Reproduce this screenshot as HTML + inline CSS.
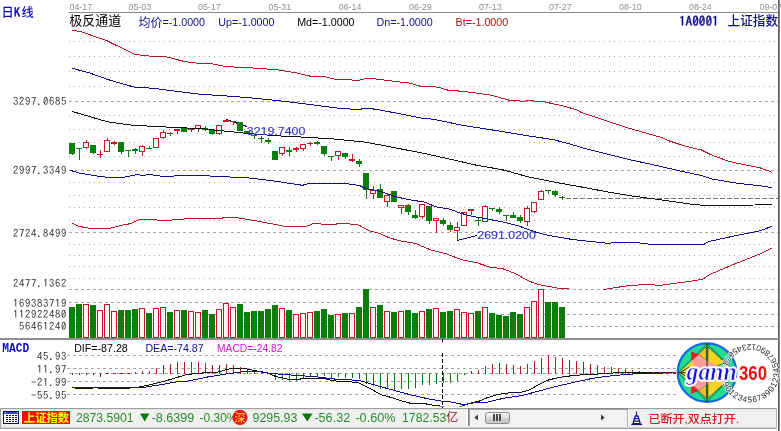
<!DOCTYPE html>
<html lang="zh-CN">
<head>
<meta charset="utf-8">
<title>上证指数 日K线 极反通道</title>
<style>
html,body{margin:0;padding:0;background:#fff;}
body{width:781px;height:431px;overflow:hidden;position:relative;font-family:'Liberation Sans','Noto Sans CJK SC',sans-serif;}
svg text{white-space:pre;}
</style>
</head>
<body>
<svg width="781" height="431" viewBox="0 0 781 431" style="position:absolute;left:0;top:0">
<g shape-rendering="crispEdges">
<rect x="69" y="12" width="710" height="1" fill="#8c8c8c"/>
<rect x="778" y="0" width="1" height="431" fill="#5a5a64"/>
<rect x="779" y="0" width="1" height="431" fill="#8a8a94"/>
<line x1="69" y1="41.5" x2="778" y2="41.5" stroke="#acacac" stroke-width="1" stroke-dasharray="1 4" stroke-dashoffset="0"/>
<line x1="69" y1="56.5" x2="778" y2="56.5" stroke="#acacac" stroke-width="1" stroke-dasharray="1 4" stroke-dashoffset="0"/>
<line x1="69" y1="71.5" x2="778" y2="71.5" stroke="#acacac" stroke-width="1" stroke-dasharray="1 4" stroke-dashoffset="0"/>
<line x1="69" y1="86.5" x2="778" y2="86.5" stroke="#acacac" stroke-width="1" stroke-dasharray="1 4" stroke-dashoffset="0"/>
<line x1="69" y1="115.5" x2="778" y2="115.5" stroke="#acacac" stroke-width="1" stroke-dasharray="1 4" stroke-dashoffset="0"/>
<line x1="69" y1="129.5" x2="778" y2="129.5" stroke="#acacac" stroke-width="1" stroke-dasharray="1 4" stroke-dashoffset="0"/>
<line x1="69" y1="142.5" x2="778" y2="142.5" stroke="#acacac" stroke-width="1" stroke-dasharray="1 4" stroke-dashoffset="0"/>
<line x1="69" y1="156.5" x2="778" y2="156.5" stroke="#acacac" stroke-width="1" stroke-dasharray="1 4" stroke-dashoffset="0"/>
<line x1="69" y1="182.5" x2="778" y2="182.5" stroke="#acacac" stroke-width="1" stroke-dasharray="1 4" stroke-dashoffset="0"/>
<line x1="69" y1="195.5" x2="778" y2="195.5" stroke="#acacac" stroke-width="1" stroke-dasharray="1 4" stroke-dashoffset="0"/>
<line x1="69" y1="207.5" x2="778" y2="207.5" stroke="#acacac" stroke-width="1" stroke-dasharray="1 4" stroke-dashoffset="0"/>
<line x1="69" y1="220.5" x2="778" y2="220.5" stroke="#acacac" stroke-width="1" stroke-dasharray="1 4" stroke-dashoffset="0"/>
<line x1="69" y1="244.5" x2="778" y2="244.5" stroke="#acacac" stroke-width="1" stroke-dasharray="1 4" stroke-dashoffset="0"/>
<line x1="69" y1="255.5" x2="778" y2="255.5" stroke="#acacac" stroke-width="1" stroke-dasharray="1 4" stroke-dashoffset="0"/>
<line x1="69" y1="266.5" x2="778" y2="266.5" stroke="#acacac" stroke-width="1" stroke-dasharray="1 4" stroke-dashoffset="0"/>
<line x1="69" y1="278.5" x2="778" y2="278.5" stroke="#acacac" stroke-width="1" stroke-dasharray="1 4" stroke-dashoffset="0"/>
<line x1="69" y1="101.5" x2="778" y2="101.5" stroke="#a4a4a4" stroke-width="1" stroke-dasharray="3 3" stroke-dashoffset="0"/>
<line x1="69" y1="170.5" x2="778" y2="170.5" stroke="#a4a4a4" stroke-width="1" stroke-dasharray="3 3" stroke-dashoffset="0"/>
<line x1="69" y1="232.5" x2="778" y2="232.5" stroke="#a4a4a4" stroke-width="1" stroke-dasharray="3 3" stroke-dashoffset="0"/>
<line x1="69" y1="289.5" x2="778" y2="289.5" stroke="#a4a4a4" stroke-width="1" stroke-dasharray="3 3" stroke-dashoffset="0"/>
<line x1="69" y1="302.5" x2="778" y2="302.5" stroke="#a4a4a4" stroke-width="1" stroke-dasharray="3 3" stroke-dashoffset="0"/>
<line x1="69" y1="314.5" x2="778" y2="314.5" stroke="#a4a4a4" stroke-width="1" stroke-dasharray="3 3" stroke-dashoffset="0"/>
<line x1="69" y1="326.5" x2="778" y2="326.5" stroke="#a4a4a4" stroke-width="1" stroke-dasharray="3 3" stroke-dashoffset="0"/>
<line x1="67" y1="355.5" x2="676" y2="355.5" stroke="#a4a4a4" stroke-width="1" stroke-dasharray="3 3" stroke-dashoffset="0"/>
<line x1="67" y1="368.5" x2="676" y2="368.5" stroke="#a4a4a4" stroke-width="1" stroke-dasharray="3 3" stroke-dashoffset="0"/>
<line x1="67" y1="381.5" x2="676" y2="381.5" stroke="#a4a4a4" stroke-width="1" stroke-dasharray="3 3" stroke-dashoffset="0"/>
<line x1="67" y1="394.5" x2="676" y2="394.5" stroke="#a4a4a4" stroke-width="1" stroke-dasharray="3 3" stroke-dashoffset="0"/>
<rect x="0" y="338" width="779" height="2" fill="#8e8e8e"/>
</g>
<g shape-rendering="crispEdges">
<line x1="566" y1="198.5" x2="778" y2="198.5" stroke="#767676" stroke-width="1" stroke-dasharray="5 2" stroke-dashoffset="0"/>
</g>
<g shape-rendering="crispEdges" stroke="#10108e" stroke-width="1">
<line x1="226" y1="119.5" x2="247" y2="126.5"/>
<line x1="457.5" y1="240.5" x2="477" y2="235.5"/>
</g>
<g shape-rendering="crispEdges">
<rect x="72" y="143" width="1" height="12" fill="#0a7d0a"/>
<rect x="69" y="143" width="6" height="11" fill="#0a7d0a"/>
<rect x="79" y="148" width="1" height="12" fill="#0a7d0a"/>
<rect x="76" y="148" width="6" height="1" fill="#0a7d0a"/>
<rect x="86" y="140" width="1" height="9" fill="#d01226"/>
<rect x="83.5" y="142.5" width="5" height="5" fill="#fff" stroke="#d01226" stroke-width="1"/>
<rect x="93" y="145" width="1" height="9" fill="#0a7d0a"/>
<rect x="90" y="145" width="6" height="8" fill="#0a7d0a"/>
<rect x="100" y="150" width="1" height="8" fill="#d01226"/>
<rect x="97" y="154" width="6" height="1" fill="#d01226"/>
<rect x="107" y="138" width="1" height="14" fill="#d01226"/>
<rect x="104.5" y="140.5" width="5" height="11" fill="#fff" stroke="#d01226" stroke-width="1"/>
<rect x="114" y="141" width="1" height="4" fill="#d01226"/>
<rect x="111" y="142" width="6" height="2" fill="#d01226"/>
<rect x="121" y="142" width="1" height="12" fill="#0a7d0a"/>
<rect x="118" y="142" width="6" height="10" fill="#0a7d0a"/>
<rect x="128" y="150" width="1" height="7" fill="#0a7d0a"/>
<rect x="125" y="150" width="6" height="1" fill="#0a7d0a"/>
<rect x="135" y="148" width="1" height="6" fill="#0a7d0a"/>
<rect x="132" y="149" width="6" height="2" fill="#0a7d0a"/>
<rect x="142" y="145" width="1" height="11" fill="#d01226"/>
<rect x="139.5" y="146.5" width="5" height="5" fill="#fff" stroke="#d01226" stroke-width="1"/>
<rect x="149" y="146" width="1" height="2" fill="#0a7d0a"/>
<rect x="146" y="148" width="6" height="1" fill="#0a7d0a"/>
<rect x="156" y="138" width="1" height="10" fill="#d01226"/>
<rect x="153.5" y="138.5" width="5" height="9" fill="#fff" stroke="#d01226" stroke-width="1"/>
<rect x="163" y="130" width="1" height="9" fill="#d01226"/>
<rect x="160.5" y="132.5" width="5" height="5" fill="#fff" stroke="#d01226" stroke-width="1"/>
<rect x="170" y="132" width="1" height="4" fill="#0a7d0a"/>
<rect x="167" y="133" width="6" height="1" fill="#0a7d0a"/>
<rect x="177" y="129" width="1" height="5" fill="#d01226"/>
<rect x="174" y="129" width="6" height="2" fill="#d01226"/>
<rect x="184" y="128" width="1" height="4" fill="#0a7d0a"/>
<rect x="181" y="128" width="6" height="4" fill="#0a7d0a"/>
<rect x="191" y="128" width="1" height="4" fill="#d01226"/>
<rect x="188" y="128" width="6" height="2" fill="#d01226"/>
<rect x="198" y="125" width="1" height="7" fill="#d01226"/>
<rect x="195.5" y="125.5" width="5" height="3" fill="#fff" stroke="#d01226" stroke-width="1"/>
<rect x="205" y="126" width="1" height="5" fill="#0a7d0a"/>
<rect x="202" y="128" width="6" height="2" fill="#0a7d0a"/>
<rect x="212" y="130" width="1" height="5" fill="#0a7d0a"/>
<rect x="209" y="130" width="6" height="4" fill="#0a7d0a"/>
<rect x="219" y="125" width="1" height="10" fill="#d01226"/>
<rect x="216.5" y="125.5" width="5" height="8" fill="#fff" stroke="#d01226" stroke-width="1"/>
<rect x="226" y="120" width="1" height="2" fill="#d01226"/>
<rect x="223" y="120" width="6" height="2" fill="#d01226"/>
<rect x="233" y="121" width="1" height="4" fill="#d01226"/>
<rect x="230" y="121" width="6" height="1" fill="#d01226"/>
<rect x="240" y="122" width="1" height="9" fill="#0a7d0a"/>
<rect x="237" y="122" width="6" height="9" fill="#0a7d0a"/>
<rect x="247" y="131" width="1" height="3" fill="#0a7d0a"/>
<rect x="244" y="131" width="6" height="3" fill="#0a7d0a"/>
<rect x="254" y="134" width="1" height="5" fill="#0a7d0a"/>
<rect x="251" y="135" width="6" height="1" fill="#0a7d0a"/>
<rect x="261" y="136" width="1" height="7" fill="#0a7d0a"/>
<rect x="258" y="138" width="6" height="1" fill="#0a7d0a"/>
<rect x="268" y="138" width="1" height="6" fill="#0a7d0a"/>
<rect x="265" y="140" width="6" height="2" fill="#0a7d0a"/>
<rect x="275" y="151" width="1" height="9" fill="#0a7d0a"/>
<rect x="272" y="151" width="6" height="9" fill="#0a7d0a"/>
<rect x="282" y="147" width="1" height="9" fill="#d01226"/>
<rect x="279.5" y="147.5" width="5" height="6" fill="#fff" stroke="#d01226" stroke-width="1"/>
<rect x="289" y="147" width="1" height="9" fill="#0a7d0a"/>
<rect x="286" y="150" width="6" height="2" fill="#0a7d0a"/>
<rect x="296" y="147" width="1" height="5" fill="#d01226"/>
<rect x="293" y="148" width="6" height="2" fill="#d01226"/>
<rect x="303" y="144" width="1" height="7" fill="#d01226"/>
<rect x="300.5" y="144.5" width="5" height="4" fill="#fff" stroke="#d01226" stroke-width="1"/>
<rect x="310" y="142" width="1" height="4" fill="#d01226"/>
<rect x="307" y="143" width="6" height="1" fill="#d01226"/>
<rect x="317" y="141" width="1" height="4" fill="#0a7d0a"/>
<rect x="314" y="142" width="6" height="2" fill="#0a7d0a"/>
<rect x="324" y="146" width="1" height="10" fill="#0a7d0a"/>
<rect x="321" y="146" width="6" height="8" fill="#0a7d0a"/>
<rect x="331" y="156" width="1" height="5" fill="#0a7d0a"/>
<rect x="328" y="156" width="6" height="1" fill="#0a7d0a"/>
<rect x="338" y="151" width="1" height="9" fill="#d01226"/>
<rect x="335.5" y="151.5" width="5" height="4" fill="#fff" stroke="#d01226" stroke-width="1"/>
<rect x="345" y="153" width="1" height="6" fill="#0a7d0a"/>
<rect x="342" y="153" width="6" height="4" fill="#0a7d0a"/>
<rect x="352" y="154" width="1" height="8" fill="#d01226"/>
<rect x="349" y="159" width="6" height="2" fill="#d01226"/>
<rect x="359" y="159" width="1" height="8" fill="#0a7d0a"/>
<rect x="356" y="161" width="6" height="3" fill="#0a7d0a"/>
<rect x="366" y="173" width="1" height="26" fill="#0a7d0a"/>
<rect x="363" y="173" width="6" height="17" fill="#0a7d0a"/>
<rect x="373" y="186" width="1" height="13" fill="#d01226"/>
<rect x="370.5" y="190.5" width="5" height="3" fill="#fff" stroke="#d01226" stroke-width="1"/>
<rect x="380" y="184" width="1" height="14" fill="#0a7d0a"/>
<rect x="377" y="189" width="6" height="9" fill="#0a7d0a"/>
<rect x="387" y="194" width="1" height="13" fill="#d01226"/>
<rect x="384.5" y="195.5" width="5" height="6" fill="#fff" stroke="#d01226" stroke-width="1"/>
<rect x="394" y="191" width="1" height="11" fill="#0a7d0a"/>
<rect x="391" y="191" width="6" height="11" fill="#0a7d0a"/>
<rect x="401" y="205" width="1" height="9" fill="#d01226"/>
<rect x="398.5" y="205.5" width="5" height="2" fill="#fff" stroke="#d01226" stroke-width="1"/>
<rect x="408" y="204" width="1" height="11" fill="#0a7d0a"/>
<rect x="405" y="205" width="6" height="7" fill="#0a7d0a"/>
<rect x="415" y="210" width="1" height="9" fill="#0a7d0a"/>
<rect x="412" y="215" width="6" height="3" fill="#0a7d0a"/>
<rect x="422" y="204" width="1" height="15" fill="#d01226"/>
<rect x="419.5" y="204.5" width="5" height="12" fill="#fff" stroke="#d01226" stroke-width="1"/>
<rect x="429" y="206" width="1" height="18" fill="#0a7d0a"/>
<rect x="426" y="206" width="6" height="15" fill="#0a7d0a"/>
<rect x="436" y="218" width="1" height="15" fill="#d01226"/>
<rect x="433.5" y="218.5" width="5" height="2" fill="#fff" stroke="#d01226" stroke-width="1"/>
<rect x="443" y="218" width="1" height="8" fill="#0a7d0a"/>
<rect x="440" y="220" width="6" height="4" fill="#0a7d0a"/>
<rect x="450" y="222" width="1" height="10" fill="#0a7d0a"/>
<rect x="447" y="225" width="6" height="5" fill="#0a7d0a"/>
<rect x="457" y="222" width="1" height="18" fill="#d01226"/>
<rect x="454.5" y="227.5" width="5" height="3" fill="#fff" stroke="#d01226" stroke-width="1"/>
<rect x="464" y="212" width="1" height="14" fill="#d01226"/>
<rect x="461.5" y="212.5" width="5" height="13" fill="#fff" stroke="#d01226" stroke-width="1"/>
<rect x="471" y="209" width="1" height="6" fill="#d01226"/>
<rect x="468" y="209" width="6" height="2" fill="#d01226"/>
<rect x="478" y="217" width="1" height="9" fill="#0a7d0a"/>
<rect x="475" y="220" width="6" height="1" fill="#0a7d0a"/>
<rect x="485" y="205" width="1" height="17" fill="#d01226"/>
<rect x="482.5" y="206.5" width="5" height="15" fill="#fff" stroke="#d01226" stroke-width="1"/>
<rect x="492" y="208" width="1" height="3" fill="#0a7d0a"/>
<rect x="489" y="208" width="6" height="1" fill="#0a7d0a"/>
<rect x="499" y="207" width="1" height="7" fill="#0a7d0a"/>
<rect x="496" y="209" width="6" height="3" fill="#0a7d0a"/>
<rect x="506" y="215" width="1" height="6" fill="#0a7d0a"/>
<rect x="503" y="215" width="6" height="1" fill="#0a7d0a"/>
<rect x="513" y="212" width="1" height="6" fill="#0a7d0a"/>
<rect x="510" y="215" width="6" height="3" fill="#0a7d0a"/>
<rect x="520" y="215" width="1" height="8" fill="#0a7d0a"/>
<rect x="517" y="217" width="6" height="4" fill="#0a7d0a"/>
<rect x="527" y="206" width="1" height="20" fill="#d01226"/>
<rect x="524.5" y="208.5" width="5" height="13" fill="#fff" stroke="#d01226" stroke-width="1"/>
<rect x="534" y="202" width="1" height="11" fill="#d01226"/>
<rect x="531.5" y="202.5" width="5" height="9" fill="#fff" stroke="#d01226" stroke-width="1"/>
<rect x="541" y="190" width="1" height="10" fill="#d01226"/>
<rect x="538.5" y="191.5" width="5" height="8" fill="#fff" stroke="#d01226" stroke-width="1"/>
<rect x="548" y="190" width="1" height="4" fill="#0a7d0a"/>
<rect x="545" y="190" width="6" height="1" fill="#0a7d0a"/>
<rect x="555" y="190" width="1" height="7" fill="#0a7d0a"/>
<rect x="552" y="191" width="6" height="4" fill="#0a7d0a"/>
<rect x="562" y="196" width="1" height="4" fill="#0a7d0a"/>
<rect x="559" y="197" width="6" height="1" fill="#0a7d0a"/>
</g>
<g shape-rendering="crispEdges" stroke-linejoin="round">
<polyline points="72.5,30.2 82.0,32.0 107.5,41.0 134.4,54.3 151.0,56.3 166.4,56.9 184.4,61.5 200.0,63.5 212.8,64.0 225.6,66.6 251.2,67.9 276.8,69.7 297.3,73.0 312.7,76.8 322.9,76.3 335.7,79.4 348.5,79.9 358.8,80.2 367.7,78.1 379.3,79.4 400.0,82.0 410.2,83.2 420.5,86.3 438.4,87.1 448.7,90.4 461.5,91.2 489.6,94.8 510.0,100.4 523.0,101.2 528.0,100.6 543.4,101.7 558.8,105.0 576.7,109.6 581.0,112.3 606.6,121.0 627.0,127.7 663.0,137.9 668.0,140.5 683.4,145.6 701.4,150.0 711.6,155.0 727.0,160.7 737.2,163.3 760.3,167.9 771.8,172.2" fill="none" stroke="#b21a30" stroke-width="1" />
<polyline points="72.3,223.2 78.5,226.2 85.0,227.5 90.0,228.3 100.0,228.7 107.5,228.9 120.4,225.6 130.6,223.6 138.3,220.0 151.0,219.2 163.9,221.0 179.3,219.2 200.0,218.4 220.5,218.4 225.6,217.4 235.8,217.4 251.2,220.0 271.7,223.8 287.0,226.9 305.0,226.9 312.7,223.8 320.3,223.8 325.5,224.8 333.1,224.8 338.3,223.6 348.5,223.8 358.8,225.1 369.0,230.7 379.2,233.3 389.5,237.9 400.0,240.8 415.4,243.5 430.7,249.9 446.1,253.8 461.5,259.7 476.8,262.7 489.6,267.1 502.4,268.6 515.2,273.5 528.0,280.7 538.3,284.5 558.8,288.3 569.0,288.9" fill="none" stroke="#b21a30" stroke-width="1" />
<polyline points="603.5,289.6 627.0,285.8 645.0,284.5 660.4,285.3 683.4,282.2 690.0,281.4 702.5,279.3 709.0,274.8 734.6,264.0 760.3,253.8 771.8,248.1" fill="none" stroke="#b21a30" stroke-width="1" />
<polyline points="72.5,68.4 89.6,73.0 107.5,79.4 120.4,83.2 134.4,87.1 153.6,88.3 179.3,91.7 200.0,94.2 225.6,95.9 251.2,97.9 276.8,100.5 302.4,103.5 328.0,106.9 343.4,108.7 358.8,109.4 367.7,108.1 379.3,109.9 400.0,113.8 420.5,118.0 433.3,119.2 464.0,125.6 484.5,128.7 528.0,135.8 553.6,139.7 579.3,146.6 581.0,147.4 606.6,153.8 632.2,160.2 657.8,165.8 683.4,171.7 701.4,175.5 711.6,178.9 737.2,183.2 760.3,185.8 771.8,187.6" fill="none" stroke="#10108e" stroke-width="1" />
<polyline points="70.0,170.5 75.0,171.5 79.0,173.0 84.0,173.8 91.0,175.0 97.4,176.0 104.5,177.0 108.0,177.5 122.0,177.5 125.0,177.0 130.5,176.0 135.0,175.0 137.0,174.5 140.0,175.0 143.0,175.5 146.0,175.0 149.0,174.5 153.0,175.0 157.0,175.6 160.0,176.0 164.0,176.6 172.0,176.5 175.0,175.8 180.0,175.5 200.0,175.5 225.6,176.8 251.2,178.1 276.8,181.4 302.4,185.3 310.0,183.2 328.0,184.0 343.4,183.2 350.0,184.1 359.2,185.4 365.4,188.4 380.7,191.5 396.0,196.9 411.4,200.0 425.3,202.3 436.0,206.9 449.8,209.2 460.8,213.3 471.5,216.1 485.3,218.7 500.7,221.5 517.6,225.6 536.0,232.2 548.3,235.3 570.0,239.1 581.0,240.5 593.8,241.7 609.2,243.5 614.3,242.3 634.8,242.3 650.1,244.3 703.9,244.3 709.0,241.5 734.6,235.9 760.3,230.7 771.8,226.4" fill="none" stroke="#10108e" stroke-width="1" />
<polyline points="72.5,111.5 89.6,116.6 107.5,121.8 128.0,124.8 153.6,126.4 179.3,127.7 200.0,128.5 225.6,131.2 251.2,133.8 276.8,135.8 302.4,137.1 333.2,138.9 366.5,142.3 400.0,148.7 425.6,153.8 451.2,159.4 476.8,165.3 502.4,169.7 528.0,176.8 553.6,182.0 579.3,186.6 606.6,191.7 632.2,196.0 657.8,199.4 678.3,202.4 693.7,204.5 706.5,205.5 755.0,205.0 771.8,204.5" fill="none" stroke="#101010" stroke-width="1" />
</g>
<g shape-rendering="crispEdges">
<rect x="69" y="307" width="6" height="31" fill="#0a7d0a"/>
<rect x="76" y="304" width="6" height="34" fill="#0a7d0a"/>
<rect x="83.5" y="304.5" width="5" height="33" fill="#fff4f4" stroke="#d01226" stroke-width="1"/>
<rect x="90" y="305" width="6" height="33" fill="#0a7d0a"/>
<rect x="97.5" y="310.5" width="5" height="27" fill="#fff4f4" stroke="#d01226" stroke-width="1"/>
<rect x="104.5" y="304.5" width="5" height="33" fill="#fff4f4" stroke="#d01226" stroke-width="1"/>
<rect x="111.5" y="311.5" width="5" height="26" fill="#fff4f4" stroke="#d01226" stroke-width="1"/>
<rect x="118" y="310" width="6" height="28" fill="#0a7d0a"/>
<rect x="125" y="310" width="6" height="28" fill="#0a7d0a"/>
<rect x="132" y="309" width="6" height="29" fill="#0a7d0a"/>
<rect x="139.5" y="308.5" width="5" height="29" fill="#fff4f4" stroke="#d01226" stroke-width="1"/>
<rect x="146" y="313" width="6" height="25" fill="#0a7d0a"/>
<rect x="153.5" y="308.5" width="5" height="29" fill="#fff4f4" stroke="#d01226" stroke-width="1"/>
<rect x="160.5" y="307.5" width="5" height="30" fill="#fff4f4" stroke="#d01226" stroke-width="1"/>
<rect x="167" y="312" width="6" height="26" fill="#0a7d0a"/>
<rect x="174.5" y="310.5" width="5" height="27" fill="#fff4f4" stroke="#d01226" stroke-width="1"/>
<rect x="181" y="310" width="6" height="28" fill="#0a7d0a"/>
<rect x="188.5" y="311.5" width="5" height="26" fill="#fff4f4" stroke="#d01226" stroke-width="1"/>
<rect x="195.5" y="312.5" width="5" height="25" fill="#fff4f4" stroke="#d01226" stroke-width="1"/>
<rect x="202" y="310" width="6" height="28" fill="#0a7d0a"/>
<rect x="209" y="314" width="6" height="24" fill="#0a7d0a"/>
<rect x="216.5" y="309.5" width="5" height="28" fill="#fff4f4" stroke="#d01226" stroke-width="1"/>
<rect x="223.5" y="303.5" width="5" height="34" fill="#fff4f4" stroke="#d01226" stroke-width="1"/>
<rect x="230.5" y="307.5" width="5" height="30" fill="#fff4f4" stroke="#d01226" stroke-width="1"/>
<rect x="237" y="304" width="6" height="34" fill="#0a7d0a"/>
<rect x="244" y="312" width="6" height="26" fill="#0a7d0a"/>
<rect x="251" y="311" width="6" height="27" fill="#0a7d0a"/>
<rect x="258" y="311" width="6" height="27" fill="#0a7d0a"/>
<rect x="265" y="309" width="6" height="29" fill="#0a7d0a"/>
<rect x="272" y="305" width="6" height="33" fill="#0a7d0a"/>
<rect x="279.5" y="308.5" width="5" height="29" fill="#fff4f4" stroke="#d01226" stroke-width="1"/>
<rect x="286" y="310" width="6" height="28" fill="#0a7d0a"/>
<rect x="293.5" y="314.5" width="5" height="23" fill="#fff4f4" stroke="#d01226" stroke-width="1"/>
<rect x="300.5" y="313.5" width="5" height="24" fill="#fff4f4" stroke="#d01226" stroke-width="1"/>
<rect x="307.5" y="312.5" width="5" height="25" fill="#fff4f4" stroke="#d01226" stroke-width="1"/>
<rect x="314" y="311" width="6" height="27" fill="#0a7d0a"/>
<rect x="321" y="309" width="6" height="29" fill="#0a7d0a"/>
<rect x="328" y="315" width="6" height="23" fill="#0a7d0a"/>
<rect x="335.5" y="314.5" width="5" height="23" fill="#fff4f4" stroke="#d01226" stroke-width="1"/>
<rect x="342" y="313" width="6" height="25" fill="#0a7d0a"/>
<rect x="349.5" y="313.5" width="5" height="24" fill="#fff4f4" stroke="#d01226" stroke-width="1"/>
<rect x="356" y="307" width="6" height="31" fill="#0a7d0a"/>
<rect x="363" y="289" width="6" height="49" fill="#0a7d0a"/>
<rect x="370.5" y="307.5" width="5" height="30" fill="#fff4f4" stroke="#d01226" stroke-width="1"/>
<rect x="377" y="305" width="6" height="33" fill="#0a7d0a"/>
<rect x="384.5" y="311.5" width="5" height="26" fill="#fff4f4" stroke="#d01226" stroke-width="1"/>
<rect x="391" y="312" width="6" height="26" fill="#0a7d0a"/>
<rect x="398.5" y="311.5" width="5" height="26" fill="#fff4f4" stroke="#d01226" stroke-width="1"/>
<rect x="405" y="310" width="6" height="28" fill="#0a7d0a"/>
<rect x="412" y="313" width="6" height="25" fill="#0a7d0a"/>
<rect x="419.5" y="311.5" width="5" height="26" fill="#fff4f4" stroke="#d01226" stroke-width="1"/>
<rect x="426" y="309" width="6" height="29" fill="#0a7d0a"/>
<rect x="433.5" y="308.5" width="5" height="29" fill="#fff4f4" stroke="#d01226" stroke-width="1"/>
<rect x="440" y="312" width="6" height="26" fill="#0a7d0a"/>
<rect x="447" y="311" width="6" height="27" fill="#0a7d0a"/>
<rect x="454.5" y="309.5" width="5" height="28" fill="#fff4f4" stroke="#d01226" stroke-width="1"/>
<rect x="461.5" y="312.5" width="5" height="25" fill="#fff4f4" stroke="#d01226" stroke-width="1"/>
<rect x="468.5" y="313.5" width="5" height="24" fill="#fff4f4" stroke="#d01226" stroke-width="1"/>
<rect x="475" y="311" width="6" height="27" fill="#0a7d0a"/>
<rect x="482.5" y="307.5" width="5" height="30" fill="#fff4f4" stroke="#d01226" stroke-width="1"/>
<rect x="489" y="313" width="6" height="25" fill="#0a7d0a"/>
<rect x="496" y="315" width="6" height="23" fill="#0a7d0a"/>
<rect x="503" y="316" width="6" height="22" fill="#0a7d0a"/>
<rect x="510" y="312" width="6" height="26" fill="#0a7d0a"/>
<rect x="517" y="314" width="6" height="24" fill="#0a7d0a"/>
<rect x="524.5" y="307.5" width="5" height="30" fill="#fff4f4" stroke="#d01226" stroke-width="1"/>
<rect x="531.5" y="301.5" width="5" height="36" fill="#fff4f4" stroke="#d01226" stroke-width="1"/>
<rect x="538.5" y="289.5" width="5" height="48" fill="#fff4f4" stroke="#d01226" stroke-width="1"/>
<rect x="545" y="302" width="6" height="36" fill="#0a7d0a"/>
<rect x="552" y="302" width="6" height="36" fill="#0a7d0a"/>
<rect x="559" y="307" width="6" height="31" fill="#0a7d0a"/>
</g>
<g shape-rendering="crispEdges">
<line x1="69" y1="373.5" x2="676" y2="373.5" stroke="#9a9a9a" stroke-width="1" stroke-dasharray="3 3" stroke-dashoffset="0"/>
<rect x="72" y="373" width="1" height="2" fill="#1e4a1e"/>
<rect x="79" y="373" width="1" height="2" fill="#1e4a1e"/>
<rect x="86" y="373" width="1" height="2" fill="#1e4a1e"/>
<rect x="93" y="373" width="1" height="2" fill="#1e4a1e"/>
<rect x="100" y="373" width="1" height="4" fill="#1e4a1e"/>
<rect x="106" y="373" width="3" height="1" fill="#b81818"/>
<rect x="113" y="373" width="3" height="1" fill="#b81818"/>
<rect x="120" y="373" width="3" height="1" fill="#b81818"/>
<rect x="127" y="373" width="3" height="1" fill="#b81818"/>
<rect x="135" y="372" width="1" height="2" fill="#b81818"/>
<rect x="142" y="371" width="1" height="3" fill="#b81818"/>
<rect x="149" y="371" width="1" height="3" fill="#b81818"/>
<rect x="156" y="368" width="1" height="6" fill="#b81818"/>
<rect x="163" y="365" width="1" height="9" fill="#b81818"/>
<rect x="170" y="364" width="1" height="10" fill="#b81818"/>
<rect x="177" y="362" width="1" height="12" fill="#b81818"/>
<rect x="184" y="362" width="1" height="12" fill="#b81818"/>
<rect x="191" y="362" width="1" height="12" fill="#b81818"/>
<rect x="198" y="362" width="1" height="12" fill="#b81818"/>
<rect x="205" y="363" width="1" height="11" fill="#b81818"/>
<rect x="212" y="365" width="1" height="9" fill="#b81818"/>
<rect x="219" y="365" width="1" height="9" fill="#b81818"/>
<rect x="226" y="364" width="1" height="10" fill="#b81818"/>
<rect x="233" y="365" width="1" height="9" fill="#b81818"/>
<rect x="240" y="367" width="1" height="7" fill="#b81818"/>
<rect x="247" y="370" width="1" height="4" fill="#b81818"/>
<rect x="254" y="372" width="1" height="2" fill="#b81818"/>
<rect x="261" y="372" width="1" height="2" fill="#b81818"/>
<rect x="267" y="373" width="3" height="1" fill="#b81818"/>
<rect x="275" y="373" width="1" height="7" fill="#0a7d0a"/>
<rect x="282" y="373" width="1" height="7" fill="#0a7d0a"/>
<rect x="289" y="373" width="1" height="9" fill="#0a7d0a"/>
<rect x="296" y="373" width="1" height="8" fill="#0a7d0a"/>
<rect x="303" y="373" width="1" height="5" fill="#0a7d0a"/>
<rect x="310" y="373" width="1" height="3" fill="#0a7d0a"/>
<rect x="317" y="373" width="1" height="3" fill="#0a7d0a"/>
<rect x="324" y="373" width="1" height="3" fill="#0a7d0a"/>
<rect x="331" y="373" width="1" height="5" fill="#0a7d0a"/>
<rect x="338" y="373" width="1" height="4" fill="#0a7d0a"/>
<rect x="345" y="373" width="1" height="5" fill="#0a7d0a"/>
<rect x="352" y="373" width="1" height="5" fill="#0a7d0a"/>
<rect x="359" y="373" width="1" height="6" fill="#0a7d0a"/>
<rect x="366" y="373" width="1" height="11" fill="#0a7d0a"/>
<rect x="373" y="373" width="1" height="13" fill="#0a7d0a"/>
<rect x="380" y="373" width="1" height="16" fill="#0a7d0a"/>
<rect x="387" y="373" width="1" height="16" fill="#0a7d0a"/>
<rect x="394" y="373" width="1" height="17" fill="#0a7d0a"/>
<rect x="401" y="373" width="1" height="16" fill="#0a7d0a"/>
<rect x="408" y="373" width="1" height="16" fill="#0a7d0a"/>
<rect x="415" y="373" width="1" height="15" fill="#0a7d0a"/>
<rect x="422" y="373" width="1" height="12" fill="#0a7d0a"/>
<rect x="429" y="373" width="1" height="12" fill="#0a7d0a"/>
<rect x="436" y="373" width="1" height="11" fill="#0a7d0a"/>
<rect x="443" y="373" width="1" height="10" fill="#0a7d0a"/>
<rect x="450" y="373" width="1" height="10" fill="#0a7d0a"/>
<rect x="457" y="373" width="1" height="8" fill="#0a7d0a"/>
<rect x="464" y="373" width="1" height="2" fill="#0a7d0a"/>
<rect x="471" y="371" width="1" height="3" fill="#b81818"/>
<rect x="478" y="370" width="1" height="4" fill="#b81818"/>
<rect x="485" y="366" width="1" height="8" fill="#b81818"/>
<rect x="492" y="364" width="1" height="10" fill="#b81818"/>
<rect x="499" y="363" width="1" height="11" fill="#b81818"/>
<rect x="506" y="364" width="1" height="10" fill="#b81818"/>
<rect x="513" y="365" width="1" height="9" fill="#b81818"/>
<rect x="520" y="366" width="1" height="8" fill="#b81818"/>
<rect x="527" y="364" width="1" height="10" fill="#b81818"/>
<rect x="534" y="361" width="1" height="13" fill="#b81818"/>
<rect x="541" y="358" width="1" height="16" fill="#b81818"/>
<rect x="548" y="355" width="1" height="19" fill="#b81818"/>
<rect x="555" y="357" width="1" height="17" fill="#b81818"/>
<rect x="562" y="358" width="1" height="16" fill="#b81818"/>
<rect x="569" y="360" width="1" height="14" fill="#b81818"/>
<rect x="576" y="361" width="1" height="13" fill="#b81818"/>
<rect x="583" y="362" width="1" height="12" fill="#b81818"/>
<rect x="590" y="364" width="1" height="10" fill="#b81818"/>
<rect x="597" y="365" width="1" height="9" fill="#b81818"/>
<rect x="604" y="367" width="1" height="7" fill="#b81818"/>
<rect x="611" y="367" width="1" height="7" fill="#b81818"/>
<rect x="618" y="368" width="1" height="6" fill="#b81818"/>
<rect x="625" y="369" width="1" height="5" fill="#b81818"/>
<rect x="632" y="370" width="1" height="4" fill="#b81818"/>
<rect x="639" y="371" width="1" height="3" fill="#b81818"/>
<rect x="646" y="372" width="1" height="2" fill="#b81818"/>
<rect x="653" y="372" width="1" height="2" fill="#b81818"/>
<rect x="659" y="373" width="3" height="1" fill="#b81818"/>
<rect x="666" y="373" width="3" height="1" fill="#b81818"/>
<rect x="673" y="373" width="3" height="1" fill="#b81818"/>
<line x1="442.5" y1="339" x2="442.5" y2="342" stroke="#000" stroke-width="1"/>
<line x1="442.5" y1="353" x2="442.5" y2="408" stroke="#000" stroke-width="1" stroke-dasharray="4 2"/>
</g>
<clipPath id="mc"><rect x="0" y="340" width="781" height="66.6"/></clipPath>
<g shape-rendering="crispEdges" clip-path="url(#mc)">
<polyline points="72.0,387.6 78.0,388.3 88.0,388.4 96.0,387.8 104.0,388.8 112.0,388.2 131.7,388.0 138.9,387.0 146.0,385.7 156.8,383.0 167.5,380.3 176.5,377.6 185.4,375.0 192.6,373.9 200.0,373.1 208.0,372.8 219.0,371.9 226.0,369.6 233.0,368.1 240.0,368.1 247.0,369.0 262.0,371.9 269.0,373.5 276.0,376.7 283.0,378.0 290.0,379.8 297.0,379.8 305.0,378.0 315.0,378.0 324.0,378.5 334.0,380.9 349.0,381.6 359.0,383.0 370.0,388.4 381.0,394.7 392.0,397.7 402.0,400.9 413.0,404.0 422.0,403.1 431.0,404.9 441.0,406.2 446.0,407.4 452.0,408.0 459.0,407.2 466.0,404.5 473.0,402.4 480.0,400.9 486.0,398.2 497.0,394.7 511.0,392.5 522.0,392.0 529.0,390.2 540.0,383.9 549.0,379.8 561.0,377.1 575.0,375.3 590.0,374.4 598.0,374.0 616.0,372.8 652.0,372.8 675.0,372.8" fill="none" stroke="#101010" stroke-width="1" />
<polyline points="72.0,387.5 131.7,387.6 146.0,387.0 160.4,384.8 174.7,382.1 185.4,381.4 190.0,380.7 200.0,378.6 208.0,376.9 226.0,374.0 237.0,372.6 247.0,371.0 255.0,371.0 262.0,371.9 269.0,373.2 283.0,374.4 297.0,375.5 315.0,376.7 330.0,378.5 338.0,379.4 359.0,380.3 374.0,384.8 392.0,389.8 410.0,394.7 428.0,398.8 443.0,401.3 450.0,401.8 457.0,403.1 464.0,404.9 471.0,403.1 486.0,402.4 504.0,398.2 522.0,395.6 540.0,390.7 557.0,386.2 575.0,382.1 590.0,378.9 601.0,377.1 616.0,375.3 628.0,374.4 639.0,373.5 652.0,373.2 675.0,372.8" fill="none" stroke="#10108e" stroke-width="1" />
<rect x="652" y="372" width="3" height="1" fill="#c01818"/>
<rect x="659" y="372" width="3" height="1" fill="#c01818"/>
<rect x="666" y="372" width="3" height="1" fill="#c01818"/>
<rect x="673" y="372" width="3" height="1" fill="#c01818"/>
</g>
<text x="69.5" y="10" font-family="'Liberation Sans', sans-serif" font-size="9.8" fill="#8e8e8e" text-anchor="start" textLength="22.6" lengthAdjust="spacingAndGlyphs">04-17</text>
<text x="128.5" y="10" font-family="'Liberation Sans', sans-serif" font-size="9.8" fill="#8e8e8e" text-anchor="start" textLength="22.6" lengthAdjust="spacingAndGlyphs">05-03</text>
<text x="198" y="10" font-family="'Liberation Sans', sans-serif" font-size="9.8" fill="#8e8e8e" text-anchor="start" textLength="22.6" lengthAdjust="spacingAndGlyphs">05-17</text>
<text x="268.5" y="10" font-family="'Liberation Sans', sans-serif" font-size="9.8" fill="#8e8e8e" text-anchor="start" textLength="22.6" lengthAdjust="spacingAndGlyphs">05-31</text>
<text x="338.8" y="10" font-family="'Liberation Sans', sans-serif" font-size="9.8" fill="#8e8e8e" text-anchor="start" textLength="22.6" lengthAdjust="spacingAndGlyphs">06-14</text>
<text x="409" y="10" font-family="'Liberation Sans', sans-serif" font-size="9.8" fill="#8e8e8e" text-anchor="start" textLength="22.6" lengthAdjust="spacingAndGlyphs">06-29</text>
<text x="479" y="10" font-family="'Liberation Sans', sans-serif" font-size="9.8" fill="#8e8e8e" text-anchor="start" textLength="22.6" lengthAdjust="spacingAndGlyphs">07-13</text>
<text x="549" y="10" font-family="'Liberation Sans', sans-serif" font-size="9.8" fill="#8e8e8e" text-anchor="start" textLength="22.6" lengthAdjust="spacingAndGlyphs">07-27</text>
<text x="619" y="10" font-family="'Liberation Sans', sans-serif" font-size="9.8" fill="#8e8e8e" text-anchor="start" textLength="22.6" lengthAdjust="spacingAndGlyphs">08-10</text>
<text x="689" y="10" font-family="'Liberation Sans', sans-serif" font-size="9.8" fill="#8e8e8e" text-anchor="start" textLength="22.6" lengthAdjust="spacingAndGlyphs">08-24</text>
<text x="759.5" y="10" font-family="'Liberation Sans', sans-serif" font-size="9.8" fill="#8e8e8e" text-anchor="start" textLength="22.6" lengthAdjust="spacingAndGlyphs">09-07</text>
<text x="66.9" y="105.3" font-family="'IPAGothic', 'Liberation Mono', monospace" font-size="10.6" fill="#2e2e2e" text-anchor="end" letter-spacing="0.7">3297.0685</text>
<text x="66.9" y="174" font-family="'IPAGothic', 'Liberation Mono', monospace" font-size="10.6" fill="#2e2e2e" text-anchor="end" letter-spacing="0.7">2997.3349</text>
<text x="66.9" y="236.5" font-family="'IPAGothic', 'Liberation Mono', monospace" font-size="10.6" fill="#2e2e2e" text-anchor="end" letter-spacing="0.7">2724.8499</text>
<text x="66.9" y="287" font-family="'IPAGothic', 'Liberation Mono', monospace" font-size="10.6" fill="#2e2e2e" text-anchor="end" letter-spacing="0.7">2477.1362</text>
<text x="66.9" y="306.8" font-family="'IPAGothic', 'Liberation Mono', monospace" font-size="10.6" fill="#2e2e2e" text-anchor="end" letter-spacing="0.7">169383719</text>
<text x="66.9" y="318.4" font-family="'IPAGothic', 'Liberation Mono', monospace" font-size="10.6" fill="#2e2e2e" text-anchor="end" letter-spacing="0.7">112922480</text>
<text x="66.9" y="330.4" font-family="'IPAGothic', 'Liberation Mono', monospace" font-size="10.6" fill="#2e2e2e" text-anchor="end" letter-spacing="0.7">56461240</text>
<text x="66.9" y="360" font-family="'IPAGothic', 'Liberation Mono', monospace" font-size="10.6" fill="#2e2e2e" text-anchor="end" letter-spacing="0.7">45.93</text>
<text x="66.9" y="373" font-family="'IPAGothic', 'Liberation Mono', monospace" font-size="10.6" fill="#2e2e2e" text-anchor="end" letter-spacing="0.7">11.97</text>
<text x="66.9" y="385.6" font-family="'IPAGothic', 'Liberation Mono', monospace" font-size="10.6" fill="#2e2e2e" text-anchor="end" letter-spacing="0.7">-21.99</text>
<text x="66.9" y="398.5" font-family="'IPAGothic', 'Liberation Mono', monospace" font-size="10.6" fill="#2e2e2e" text-anchor="end" letter-spacing="0.7">-55.95</text>
<text x="1.6" y="17.2" font-size="12.2" fill="#0c0cb0" font-weight="500" font-family="'Liberation Sans','Noto Sans CJK SC',sans-serif">日<tspan font-family="'IPAGothic',monospace" font-weight="normal" font-size="12.6" stroke="#0c0cb0" stroke-width="0.5" x="13.9" y="17">K</tspan><tspan x="21.6" y="17.2">线</tspan></text>
<text x="2.2" y="351.6" font-family="'Liberation Mono',monospace" font-size="12" fill="#0c0cc0" text-anchor="start" font-weight="bold" textLength="27" lengthAdjust="spacingAndGlyphs">MACD</text>
<text x="69.3" y="25.1" font-family="'Liberation Sans','Noto Sans CJK SC',sans-serif" font-size="13" fill="#000" text-anchor="start" >极反通道</text>
<text y="25.9" font-family="'Liberation Sans', sans-serif" font-size="10.7"><tspan x="138.5" fill="#10108e" font-family="'Liberation Sans','Noto Sans CJK SC',sans-serif" font-size="12" dy="0.6">均价</tspan><tspan fill="#10108e" dy="-0.6">=-1.0000</tspan><tspan x="218.3" fill="#10108e">Up=-1.0000</tspan><tspan x="297.2" fill="#000">Md=-1.0000</tspan><tspan x="376.5" fill="#10108e">Dn=-1.0000</tspan><tspan x="455.6" fill="#a81414">Bt=-1.0000</tspan></text>
<text y="25.2" font-size="11.4" fill="#0e0e90"><tspan x="679" y="25.7" font-family="'IPAGothic', 'Liberation Mono', monospace" font-size="13.2" stroke="#0e0e90" stroke-width="0.45" textLength="39.6" lengthAdjust="spacingAndGlyphs">1A0001</tspan><tspan x="727.6" y="25.4" font-family="'Liberation Sans','Noto Sans CJK SC',sans-serif" font-weight="500" font-size="12.6">上证指数</tspan></text>
<text y="351.8" font-family="'Liberation Sans', sans-serif" font-size="10.65"><tspan x="74.2" fill="#000">DIF=-87.28</tspan><tspan x="145.4" fill="#10108e">DEA=-74.87</tspan><tspan x="217" fill="#c818c8" textLength="65.4" lengthAdjust="spacingAndGlyphs">MACD=-24.82</tspan></text>
<text x="246.8" y="134.8" font-family="'Liberation Sans', sans-serif" font-size="11.3" fill="#3232cc" text-anchor="start" stroke="#3232cc" stroke-width="0.12" textLength="58.6" lengthAdjust="spacingAndGlyphs">3219.7400</text>
<text x="477.3" y="238.5" font-family="'Liberation Sans', sans-serif" font-size="11.3" fill="#3232cc" text-anchor="start" stroke="#3232cc" stroke-width="0.12" textLength="58.6" lengthAdjust="spacingAndGlyphs">2691.0200</text>
<g>
<circle cx="707" cy="372.6" r="29.3" fill="#22dc94" stroke="#1468e0" stroke-width="2.2"/>
<polygon points="707,343.6 736,372.6 707,401.6 678,372.6" fill="none" stroke="#1a3a1a" stroke-width="0.7"/>
<polygon points="708,398.20000000000005 708,375.20000000000005 725,382.70000000000005" fill="#ffd21c" stroke="#1a3a1a" stroke-width="0.6"/>
<polygon points="706.4,398.6 698.6,390.80000000000007 706.4,384.70000000000005" fill="#ffbe28" stroke="#1a3a1a" stroke-width="0.6"/>
<polygon points="691.5,385.20000000000005 698.6,390.6 707,384.20000000000005 723,377.20000000000005 723,372.20000000000005 688,372.20000000000005" fill="#ff9c9c"/>
<polygon points="691,394.00000000000006 698.8,390.6 691.4,384.20000000000005" fill="#e81c1c"/>
<polygon points="679.5,372.6 692,383.90000000000003 696,372.6" fill="#ffd21c"/>
<polygon points="708,347.0 708,370.0 725,362.5" fill="#ffd21c" stroke="#1a3a1a" stroke-width="0.6"/>
<polygon points="706.4,346.6 698.6,354.4 706.4,360.5" fill="#ffbe28" stroke="#1a3a1a" stroke-width="0.6"/>
<polygon points="691.5,360.0 698.6,354.6 707,361.0 723,368.0 723,373.0 688,373.0" fill="#ff9c9c"/>
<polygon points="691,351.2 698.8,354.6 691.4,361.0" fill="#e81c1c"/>
<polygon points="679.5,372.6 692,361.3 696,372.6" fill="#ffd21c"/>
<line x1="707" y1="343.6" x2="707" y2="401.6" stroke="#1a3a1a" stroke-width="1"/>
<line x1="678" y1="372.6" x2="690" y2="372.6" stroke="#1a3a1a" stroke-width="1"/>
<polyline points="690,366.6 680,372.6 690,378.6" fill="none" stroke="#1a3a1a" stroke-width="1"/>
<path id="ring" d="M 720.8,373.2 A 29.2 29.2 0 1 0 779.2,373.2 A 29.2 29.2 0 1 0 720.8,373.2" fill="none"/>
<text font-family="'Liberation Sans', sans-serif" font-size="8.3" fill="#1e1e1e" stroke="#fff" stroke-width="1.3" paint-order="stroke" stroke-linejoin="round" letter-spacing="0.84"><textPath href="#ring" startOffset="5">890123456789012345678901234567890</textPath></text>
<text x="686.6" y="379.6" font-family="'Liberation Serif', serif" font-style="italic" font-weight="bold" font-size="26" fill="#1212e4" stroke="#fff" stroke-width="3.6" paint-order="stroke" stroke-linejoin="round" textLength="50" lengthAdjust="spacingAndGlyphs">gann</text>
<text x="686.6" y="379.6" font-family="'Liberation Serif', serif" font-style="italic" font-weight="bold" font-size="26" fill="none" stroke="#fff" stroke-width="0.7" stroke-linejoin="round" textLength="50" lengthAdjust="spacingAndGlyphs">gann</text>
<text x="739" y="379.5" font-family="'Liberation Sans', sans-serif" font-weight="bold" font-size="19.3" fill="#e81414" stroke="#fff" stroke-width="1.4" paint-order="stroke" textLength="28" lengthAdjust="spacingAndGlyphs">360</text>
</g>
<g shape-rendering="crispEdges">
<rect x="0" y="408" width="777" height="21" fill="#f0f0f0"/>
<rect x="0" y="408" width="777" height="1" fill="#9e9e9e"/>
<rect x="0" y="409" width="777" height="1" fill="#e2e2e2"/>
<rect x="0" y="427" width="777" height="1" fill="#cfcfcf"/>
<rect x="0" y="428" width="777" height="1" fill="#a2a2a2"/>
<rect x="0" y="408" width="1" height="21" fill="#a8a8a8"/>
<rect x="776" y="408" width="1" height="21" fill="#b8b8b8"/>
<rect x="466" y="410" width="2" height="17" fill="#fbfbfb"/>
<rect x="468" y="408" width="160" height="19" fill="#f2f2f2"/>
<rect x="468" y="408" width="160" height="1" fill="#8a8a8a"/>
<rect x="468" y="409" width="160" height="1" fill="#a4a4a4"/>
<rect x="468" y="408" width="1" height="18" fill="#7e7e7e"/>
<rect x="469" y="410" width="1" height="16" fill="#a8a8a8"/>
<rect x="627" y="410" width="1" height="17" fill="#b0b0b0"/>
<rect x="628" y="410" width="1" height="17" fill="#fbfbfb"/>
</g>
<polygon points="478,414.5 478,420.5 474.3,417.5" fill="#3c3c3c"/>
<polygon points="601,414.5 601,420.5 604.7,417.5" fill="#3c3c3c"/>
<defs><linearGradient id="tg" x1="0" y1="0" x2="0" y2="1"><stop offset="0" stop-color="#f4f4f4"/><stop offset="0.5" stop-color="#dedede"/><stop offset="0.55" stop-color="#cfcfcf"/><stop offset="1" stop-color="#c4c4c4"/></linearGradient></defs>
<rect x="485.5" y="412.5" width="24" height="11" rx="2" fill="url(#tg)" stroke="#8e8e8e" stroke-width="1"/>
<g shape-rendering="crispEdges">
<rect x="493" y="414" width="1.6" height="7" fill="#4a4a4a"/>
<rect x="496" y="414" width="1.6" height="7" fill="#4a4a4a"/>
<rect x="499" y="414" width="1.6" height="7" fill="#4a4a4a"/>
</g>
<g shape-rendering="crispEdges">
<rect x="3" y="411" width="16" height="13" fill="#10104e"/>
<rect x="4" y="412" width="14" height="11" fill="#ffffff"/>
<rect x="4" y="412" width="14" height="2" fill="#3444c4"/>
<rect x="5" y="412" width="1" height="1" fill="#e8e8ff"/>
<rect x="17" y="412" width="1" height="1" fill="#e8e8ff"/>
<rect x="5.5" y="415" width="2.2" height="1" fill="#101010"/>
<rect x="8.5" y="415" width="2.2" height="1" fill="#101010"/>
<rect x="11.5" y="415" width="2.2" height="1" fill="#101010"/>
<rect x="14.5" y="415" width="2.2" height="1" fill="#101010"/>
<rect x="5.5" y="417" width="2.2" height="1" fill="#101010"/>
<rect x="8.5" y="417" width="2.2" height="1" fill="#101010"/>
<rect x="11.5" y="417" width="2.2" height="1" fill="#101010"/>
<rect x="14.5" y="417" width="2.2" height="1" fill="#101010"/>
<rect x="5.5" y="419" width="2.2" height="1" fill="#101010"/>
<rect x="8.5" y="419" width="2.2" height="1" fill="#101010"/>
<rect x="11.5" y="419" width="2.2" height="1" fill="#101010"/>
<rect x="14.5" y="419" width="2.2" height="1" fill="#101010"/>
<rect x="5.5" y="421" width="2.2" height="1" fill="#101010"/>
<rect x="8.5" y="421" width="2.2" height="1" fill="#101010"/>
<rect x="11.5" y="421" width="2.2" height="1" fill="#101010"/>
<rect x="14.5" y="421" width="2.2" height="1" fill="#101010"/>
<rect x="22" y="411" width="48" height="13" fill="#ff0a0a"/>
</g>
<text x="23.8" y="422" font-family="'Liberation Sans','Noto Sans CJK SC','WenQuanYi Zen Hei',sans-serif" font-size="11.6" fill="#ffff14" text-anchor="start" font-weight="bold" textLength="45.4" lengthAdjust="spacingAndGlyphs">上证指数</text>
<text x="76" y="422.3" font-family="'Liberation Sans', sans-serif" font-size="12" fill="#2c8a2c" text-anchor="start" textLength="57.5" lengthAdjust="spacingAndGlyphs">2873.5901</text>
<polygon points="140,413.5 149.4,413.5 144.7,421.5" fill="#0a780a"/>
<text x="151.5" y="422.3" font-family="'Liberation Sans', sans-serif" font-size="12" fill="#2c8a2c" text-anchor="start" textLength="42.7" lengthAdjust="spacingAndGlyphs">-8.6399</text>
<text x="199.5" y="422.3" font-family="'Liberation Sans', sans-serif" font-size="12" fill="#2c8a2c" text-anchor="start" textLength="38" lengthAdjust="spacingAndGlyphs">-0.30%</text>
<circle cx="240" cy="417.4" r="7.6" fill="#f01414"/>
<text x="240" y="421.6" font-family="'Liberation Sans','Noto Sans CJK SC','WenQuanYi Zen Hei',sans-serif" font-size="11" fill="#ffe632" text-anchor="middle" >深</text>
<text x="252.5" y="422.3" font-family="'Liberation Sans', sans-serif" font-size="12" fill="#2c8a2c" text-anchor="start" textLength="44.8" lengthAdjust="spacingAndGlyphs">9295.93</text>
<polygon points="302,413.5 312.6,413.5 307.3,421.5" fill="#0a780a"/>
<text x="314.4" y="422.3" font-family="'Liberation Sans', sans-serif" font-size="12" fill="#2c8a2c" text-anchor="start" textLength="35.8" lengthAdjust="spacingAndGlyphs">-56.32</text>
<text x="355.4" y="422.3" font-family="'Liberation Sans', sans-serif" font-size="12" fill="#2c8a2c" text-anchor="start" textLength="40.3" lengthAdjust="spacingAndGlyphs">-0.60%</text>
<text x="402" y="422.3" font-family="'Liberation Sans', sans-serif" font-size="12" fill="#2c8a2c" text-anchor="start" textLength="44.4" lengthAdjust="spacingAndGlyphs">1782.53</text>
<text x="446.3" y="422.4" font-family="'Liberation Sans','Noto Sans CJK SC',sans-serif" font-size="12" fill="#861010" text-anchor="start" >亿</text>
<g stroke="#12127e" fill="none" stroke-linejoin="round">
<path d="M636.6,411.4 L636.6,415.6" stroke-width="1"/>
<path d="M635.2,416 L638,416 L640.2,423.6 L633,423.6 Z" stroke-width="1.3" fill="#ffffff"/>
<path d="M634.4,418.6 L638.8,418.6 M633.7,421.1 L639.5,421.1" stroke-width="1.2"/>
<path d="M631.3,424.4 L642,424.4" stroke-width="1.3"/>
</g>
<text x="648.5" y="422.5" font-family="'Liberation Sans','Noto Sans CJK SC',sans-serif" font-size="11.4" fill="#cc1c1c" text-anchor="start" font-weight="500" textLength="90.5" lengthAdjust="spacingAndGlyphs">已断开,双点打开.</text>
</svg>
</body>
</html>
